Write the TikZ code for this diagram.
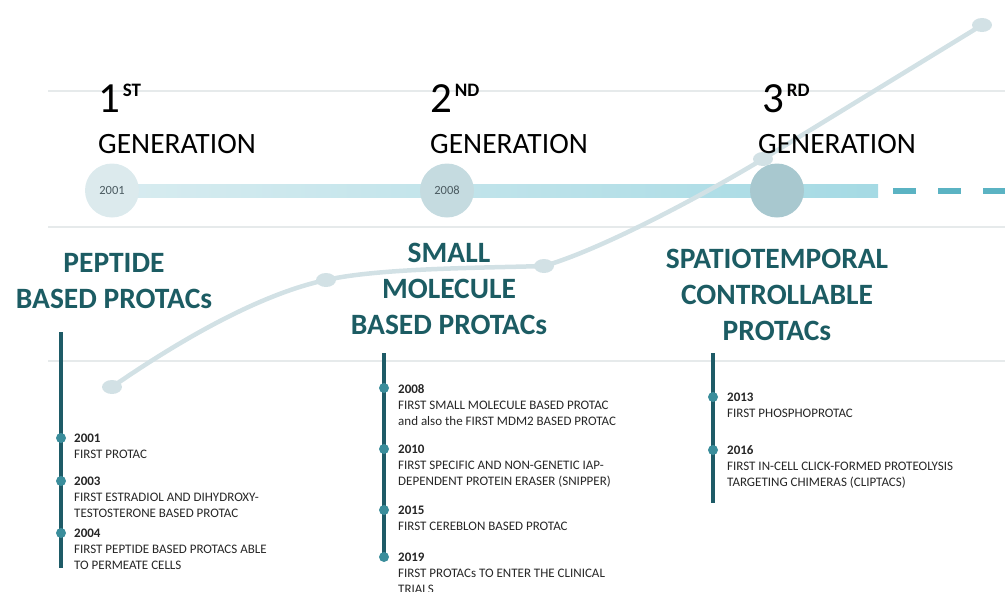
\documentclass[tikz,border=0pt]{standalone}
\usepackage{fontspec}
\setmainfont{Carlito}
\usetikzlibrary{positioning,shapes.geometric}

\definecolor{rulegray}{HTML}{E6EAEB}
\definecolor{barlight}{HTML}{D8ECF0}
\definecolor{bardark}{HTML}{A5DAE4}
\definecolor{dashteal}{HTML}{5BB3C3}
\definecolor{circA}{HTML}{DCEAED}
\definecolor{circB}{HTML}{C5DBE0}
\definecolor{circC}{HTML}{A8C8CF}
\definecolor{curvegray}{HTML}{D2E1E5}
\definecolor{headteal}{HTML}{1C5C63}
\definecolor{stemteal}{HTML}{1E5B67}
\definecolor{dotteal}{HTML}{3A8D9B}
\definecolor{yeargray}{HTML}{4A5A60}

\tikzset{
    rule/.style={draw=rulegray, line width=1.5pt},
    gencircle/.style={circle, minimum size=54pt, inner sep=0pt, text=yeargray, font=\fontsize{12.5}{14}\selectfont},
    curveline/.style={draw=curvegray, line width=4.5pt, line cap=round},
    cdot/.style={ellipse, fill=curvegray, minimum width=20pt, minimum height=14pt, inner sep=0pt},
    gennum/.style={inner sep=0pt, font=\fontsize{43}{43}\selectfont},
    gensup/.style={inner sep=0pt, font=\fontsize{19}{19}\selectfont\bfseries},
    gentext/.style={inner sep=0pt, font=\fontsize{29.5}{30}\selectfont},
    headtext/.style={inner sep=0pt, align=center, text=headteal, font=\fontsize{29.5}{36}\selectfont\bfseries},
    stem/.style={draw=stemteal, line width=3.5pt},
    tdot/.style={circle, fill=dotteal, minimum size=10pt, inner sep=0pt},
    entry/.style={inner sep=0pt, align=left, text=black!85, font=\fontsize{13}{16}\selectfont}
}

\begin{document}
\begin{tikzpicture}[x=1pt,y=-1pt]
    \useasboundingbox (0,0) rectangle (1005,592);

    % Thin gray rules
    \foreach \yy in {91,227,361} {
        \draw[rule] (48,\yy) -- (1005,\yy);
    }

    % Main bar and dashed continuation
    \shade[left color=barlight, right color=bardark] (113,184) rectangle (878,197);
    \draw[dashteal, line width=6pt, dash pattern=on 23pt off 22pt] (893,190.5) -- (1005,190.5);

    % Rising curve
    \coordinate (p1) at (112,387);
    \coordinate (p2) at (326,280);
    \coordinate (p3) at (544,266);
    \coordinate (p4) at (763,159);
    \coordinate (p5) at (982,25);
    \draw[curveline] (p1) .. controls (180,340) and (260,294) .. (p2)
        .. controls (380,268) and (480,268) .. (p3)
        .. controls (600,250) and (700,197) .. (p4) -- (p5);
    \foreach \p in {p1,p2,p3,p4,p5} {
        \node[cdot] at (\p) {};
    }

    % Generation circles
    \node[gencircle, fill=circA] (g1) at (112,190.5) {2001};
    \node[gencircle, fill=circB] (g2) at (447,190.5) {2008};
    \node[gencircle, fill=circC] (g3) at (777,190.5) {};

    % Generation titles
    \foreach \n/\x/\gx/\num/\sup in {1/98/98/1/ST, 2/430/430/2/ND, 3/762/758/3/RD} {
        \node[gennum, anchor=base west] (num\n) at (\x,112) {\num};
        \node[gensup, anchor=base west] (sup\n) at ([shift={(2.5,-16)}]num\n.base east) {\sup};
        \node[gentext, anchor=base west] (gen\n) at (\gx,153) {GENERATION};
    }

    % Headings
    \node[headtext] (head1) at (114,281) {PEPTIDE\\BASED PROTACs};
    \node[headtext] (head2) at (449,289) {SMALL\\MOLECULE\\BASED PROTACs};
    \node[headtext] (head3) at (777,295) {SPATIOTEMPORAL\\CONTROLLABLE\\PROTACs};

    % First column timeline
    \coordinate (s1top) at (61,332);
    \coordinate (s1bot) at (61,568);
    \draw[stem] (s1top) -- (s1bot);
    \foreach \yy/\yr/\txt in {438/2001/{FIRST PROTAC},
        481/2003/{FIRST ESTRADIOL AND DIHYDROXY-\\TESTOSTERONE BASED PROTAC},
        533/2004/{FIRST PEPTIDE BASED PROTACS ABLE\\TO PERMEATE CELLS}} {
        \node[tdot] (d\yr) at (61,\yy) {};
        \node[entry, anchor=north west] (e\yr) at ([shift={(13,-4.1)}]d\yr.center) {\textbf{\yr}\\\txt};
    }

    % Second column timeline
    \coordinate (s2top) at (384,353);
    \coordinate (s2bot) at (384,558);
    \draw[stem] (s2top) -- (s2bot);
    \foreach \yy/\yr/\txt in {388/2008/{FIRST SMALL MOLECULE BASED PROTAC\\and also the FIRST MDM2 BASED PROTAC},
        449/2010/{FIRST SPECIFIC AND NON-GENETIC IAP-\\DEPENDENT PROTEIN ERASER (SNIPPER)},
        510/2015/{FIRST CEREBLON BASED PROTAC},
        557/2019/{FIRST PROTACs TO ENTER THE CLINICAL\\TRIALS}} {
        \node[tdot] (d\yr) at (384,\yy) {};
        \node[entry, anchor=north west] (e\yr) at ([shift={(14,-4.1)}]d\yr.center) {\textbf{\yr}\\\txt};
    }

    % Third column timeline
    \coordinate (s3top) at (713,353);
    \coordinate (s3bot) at (713,503);
    \draw[stem] (s3top) -- (s3bot);
    \foreach \yy/\yr/\txt in {397/2013/{FIRST PHOSPHOPROTAC},
        450/2016/{FIRST IN-CELL CLICK-FORMED PROTEOLYSIS\\TARGETING CHIMERAS (CLIPTACS)}} {
        \node[tdot] (d\yr) at (713,\yy) {};
        \node[entry, anchor=north west] (e\yr) at ([shift={(14,-4.1)}]d\yr.center) {\textbf{\yr}\\\txt};
    }
\end{tikzpicture}
\end{document}
